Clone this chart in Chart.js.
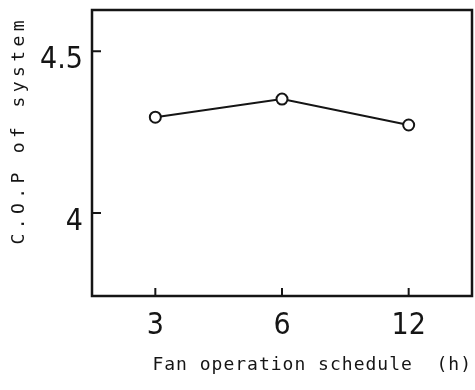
<!DOCTYPE html>
<html>
<head>
<meta charset="utf-8">
<script src="https://cdn.jsdelivr.net/npm/chart.js@4/dist/chart.umd.min.js"></script>
<style>
  html, body { margin: 0; padding: 0; background: #fff; }
  #wrap { width: 475px; height: 390px; }
</style>
</head>
<body>
<div id="wrap"><canvas id="c"></canvas></div>
<script>
// fan operation schedule (h) vs system C.O.P
const schedules = ['3', '6', '12'];
const copValues = [4.296, 4.352, 4.272];
const yTicks = [4, 4.5];

const INK = '#151515';
const tickFont = { family: '"Liberation Sans Narrow", "DejaVu Sans Condensed", sans-serif', size: 30 };
const titleFont = { family: '"DejaVu Sans Mono", "Liberation Mono", monospace', size: 18 };

// wrap a scale draw method: letter spacing and a small shift (typewriter look of the scan)
function nudge(scale, method, spacing, dy) {
  const flag = '_nudged_' + method;
  if (scale[flag]) return;
  const orig = scale[method];
  scale[method] = function () {
    this.ctx.save();
    this.ctx.letterSpacing = spacing;
    this.ctx.translate(0, dy);
    orig.apply(this, arguments);
    this.ctx.restore();
  };
  scale[flag] = true;
}

// full frame round the plot + short inward tick marks
const frame = {
  id: 'frame',
  afterDraw(chart) {
    const { ctx, chartArea: a, scales } = chart;
    ctx.save();
    ctx.strokeStyle = INK;
    ctx.lineWidth = 2.5;
    ctx.strokeRect(a.left, a.top, a.right - a.left, a.bottom - a.top);
    ctx.lineWidth = 2;
    ctx.beginPath();
    scales.x.ticks.forEach((t, i) => {
      const x = scales.x.getPixelForTick(i);
      ctx.moveTo(x, a.bottom);
      ctx.lineTo(x, a.bottom - 8);
    });
    scales.y.ticks.forEach(t => {
      const y = scales.y.getPixelForValue(t.value);
      ctx.moveTo(a.left, y);
      ctx.lineTo(a.left + 9, y);
    });
    ctx.stroke();
    ctx.restore();
  }
};

new Chart(document.getElementById('c'), {
  type: 'line',
  data: {
    labels: schedules,
    datasets: [{
      data: copValues,
      borderColor: INK,
      borderWidth: 2,
      pointStyle: 'circle',
      pointRadius: 5.5,
      pointBorderWidth: 2,
      pointBackgroundColor: '#fff',
      pointBorderColor: INK,
      tension: 0
    }]
  },
  options: {
    responsive: true, maintainAspectRatio: false,
    animation: false,
    layout: { autoPadding: false, padding: { top: 10, right: 3, left: 0, bottom: 0 } },
    plugins: { legend: { display: false }, tooltip: { enabled: false } },
    scales: {
      x: {
        type: 'category',
        offset: true,
        border: { display: false },
        grid: { display: false },
        ticks: { color: INK, font: tickFont, padding: 4, maxRotation: 0 },
        title: { display: true, text: 'Fan operation schedule  (h)', color: INK, font: titleFont, align: 'end', padding: { top: 0, bottom: 14 } },
        afterFit: s => { s.height = 94; s.paddingLeft = 0; s.paddingRight = 0; nudge(s, 'drawTitle', '1px', 0); }
      },
      y: {
        min: 3.744, max: 4.627,
        border: { display: false },
        afterBuildTicks: s => { s.ticks = yTicks.map(v => ({ value: v })); },
        grid: { display: false },
        ticks: { color: INK, font: tickFont, padding: 1, callback: v => String(v) },
        title: { display: true, text: 'C.O.P of system', color: INK, font: titleFont, align: 'end', padding: { top: 9, bottom: 0 } },
        afterFit: s => {
          s.width = 92; s.paddingTop = 0; s.paddingBottom = 0;
          nudge(s, 'drawTitle', '4.4px', 6);
          nudge(s, 'drawLabels', '0px', 9);
        }
      }
    }
  },
  plugins: [frame]
});
</script>
</body>
</html>
